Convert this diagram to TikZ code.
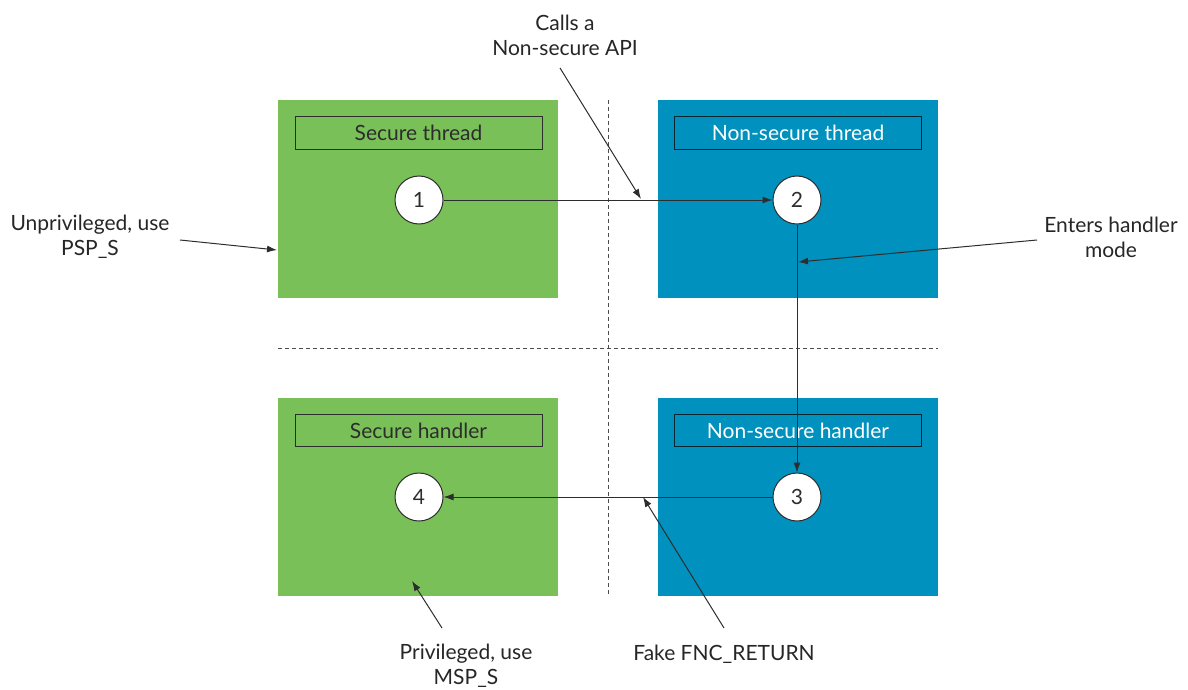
\documentclass[tikz,border=0pt]{standalone}
\usepackage{fontspec}
\setmainfont{Lato}
\usetikzlibrary{arrows.meta}
\definecolor{secgreen}{RGB}{121,192,89}
\definecolor{nsblue}{RGB}{0,145,190}
\definecolor{inkgray}{RGB}{45,45,45}

\begin{document}
\begin{tikzpicture}[x=1pt,y=1pt,yscale=-1,xscale=1,
    font=\fontsize{21}{25}\selectfont,
    secbox/.style={fill=secgreen,minimum width=280pt,minimum height=198pt,inner sep=0pt},
    nsbox/.style={fill=nsblue,minimum width=280pt,minimum height=198pt,inner sep=0pt},
    seclabel/.style={draw=inkgray,line width=1pt,minimum width=247pt,minimum height=32pt,inner sep=0pt,text=inkgray},
    nslabel/.style={draw=black!75!nsblue,line width=1pt,minimum width=247pt,minimum height=32pt,inner sep=0pt,text=white},
    stepnum/.style={circle,draw=inkgray,line width=1pt,fill=white,minimum size=48pt,inner sep=0pt,text=inkgray},
    note/.style={align=center,inner sep=0pt,text=black!85},
    flow/.style={draw=inkgray,line width=1pt,-{Latex[length=10pt,width=7pt]}},
    divider/.style={draw=black!70,line width=0.9pt,dash pattern={on 4pt off 3pt}}]
    \path[use as bounding box] (0,0) rectangle (1188,690);

    % Worlds
    \node[secbox] (sthread) at (418,199) {};
    \node[nsbox] (nthread) at (798,199) {};
    \node[secbox] (shandler) at (418,496.5) {};
    \node[nsbox] (nhandler) at (798,496.5) {};

    % Dividers
    \draw[divider] (sthread.north east -| 608,0) -- (shandler.south east -| 608,0);
    \draw[divider] (278,348) -- (938,348);

    % Titles
    \node[seclabel] (sthreadlbl) at (418.5,133) {Secure thread};
    \node[nslabel] (nthreadlbl) at (798,133) {Non-secure thread};
    \node[seclabel] (shandlerlbl) at (418.5,430.5) {Secure handler};
    \node[nslabel] (nhandlerlbl) at (798,430.5) {Non-secure handler};

    % Steps
    \node[stepnum] (one) at (419,200) {1};
    \node[stepnum] (two) at (797,200) {2};
    \node[stepnum] (three) at (797,497) {3};
    \node[stepnum] (four) at (419,497) {4};

    \draw[flow] (one) -- (two);
    \draw[flow] (two) -- (three);
    \draw[flow] (three) -- (four);

    % Notes
    \node[note] (apinote) at (565,35) {Calls a\\Non-secure API};
    \node[note] (unprivnote) at (90,237) {Unprivileged, use\\PSP\_S};
    \node[note] (handlernote) at (1111,237) {Enters handler\\mode};
    \node[note] (privnote) at (466,666) {Privileged, use\\MSP\_S};
    \node[note] (fakenote) at (724,654) {Fake FNC\_RETURN};

    \coordinate (apitail) at (560,68);
    \coordinate (apitip) at (641,199);
    \coordinate (unprivtail) at (180,240);
    \coordinate (unprivtip) at (277,250);
    \coordinate (handlertail) at (1037,240);
    \coordinate (handlertip) at (798,262);
    \coordinate (privtail) at (442,628);
    \coordinate (privtip) at (412,581);
    \coordinate (faketail) at (724,628);
    \coordinate (faketip) at (643,497);

    \draw[flow] (apitail) -- (apitip);
    \draw[flow] (unprivtail) -- (unprivtip);
    \draw[flow] (handlertail) -- (handlertip);
    \draw[flow] (privtail) -- (privtip);
    \draw[flow] (faketail) -- (faketip);
\end{tikzpicture}
\end{document}
